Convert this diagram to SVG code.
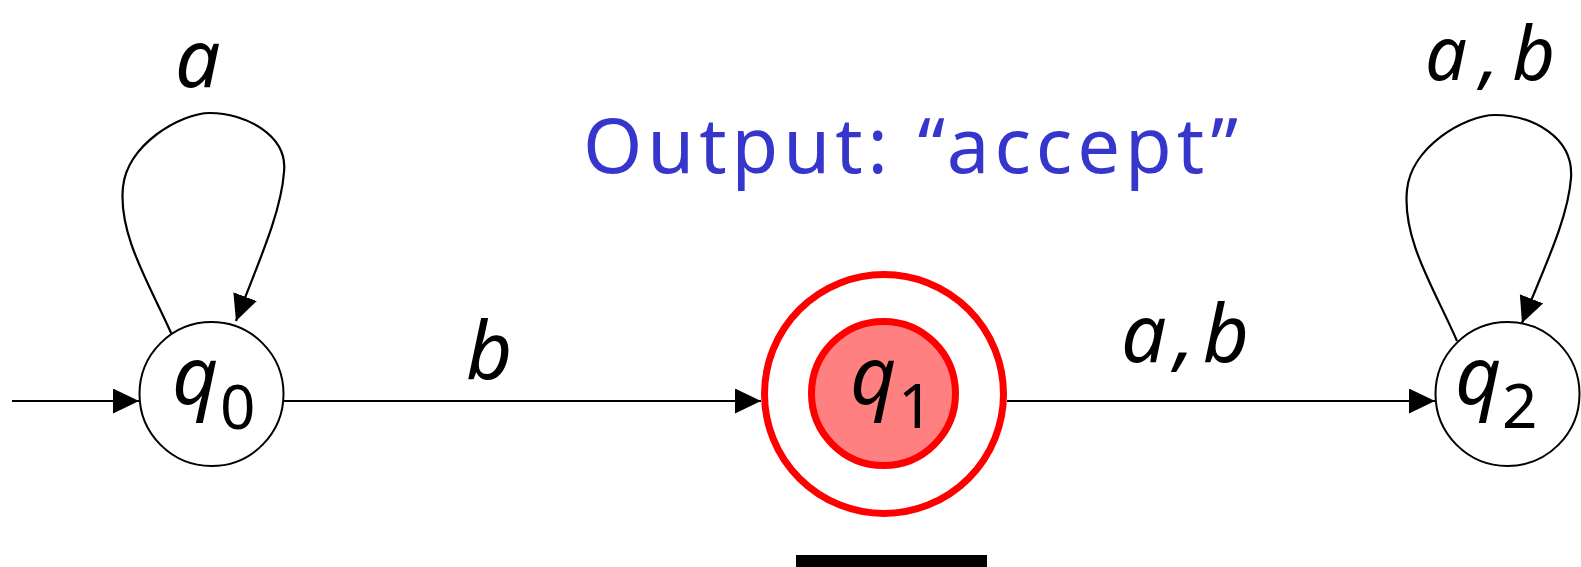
<svg xmlns="http://www.w3.org/2000/svg" width="1581" height="567" viewBox="0 0 1581 567">
<style>
.edge{fill:none;stroke:#000;stroke-width:2.2}
.state{fill:#fff;stroke:#000;stroke-width:2}
.lbl{font-family:"Noto Sans","DejaVu Sans",sans-serif;font-style:italic;font-size:80px;fill:#000}
.sub{font-family:"Noto Sans","DejaVu Sans",sans-serif;font-size:62px;fill:#000}
.out{font-family:"Noto Sans","DejaVu Sans",sans-serif;font-size:76px;fill:#3636CC}
</style>
<defs>
<marker id="arr" markerUnits="userSpaceOnUse" markerWidth="26" markerHeight="26" refX="26" refY="12.5" orient="auto">
<path d="M0,0 L26,12.5 L0,25 z" fill="#000"/>
</marker>
</defs>
<g id="connectors">
<path class="edge" d="M12,401 L139,401" marker-end="url(#arr)"/>
<path class="edge" d="M284,401 L761,401" marker-end="url(#arr)"/>
<path class="edge" d="M1007,401 L1435,401" marker-end="url(#arr)"/>
<path class="edge" d="M172,335 C150,285 118,235 123,187 C127,145 180,113 210,113 C245,113 288,135 284,172 C281,215 255,270 236,321" marker-end="url(#arr)"/>
<path class="edge" d="M1457,341 C1435,290 1402,240 1407,190 C1411,147 1465,115 1495,115 C1532,115 1574,137 1571,178 C1568,220 1542,272 1522,323" marker-end="url(#arr)"/>
<text class="lbl" x="175" y="87">a</text>
<text class="lbl" x="466" y="379">b</text>
<text class="lbl" x="1121" y="362" textLength="128">a,b</text>
<text class="lbl" x="1425" y="80" textLength="130" style="font-size:74px">a,b</text>
</g>
<g id="q0">
<circle class="state" cx="211.5" cy="394" r="72"/>
<text class="lbl" x="172" y="404">q</text>
<text class="sub" x="220" y="429">0</text>
</g>
<g id="q1">
<circle cx="884" cy="394" r="119.5" fill="#fff" stroke="#FF0000" stroke-width="7"/>
<circle cx="883.5" cy="393.5" r="72" fill="#FF8080" stroke="#FF0000" stroke-width="7"/>
<text class="lbl" x="850" y="404">q</text>
<text class="sub" x="898" y="428">1</text>
</g>
<g id="q2">
<circle class="state" cx="1507.5" cy="394" r="72"/>
<text class="lbl" x="1455" y="404">q</text>
<text class="sub" x="1502" y="428">2</text>
</g>
<g id="output">
<text class="out" x="583" y="173" textLength="655">Output: “accept”</text>
</g>
<rect x="796" y="555" width="191" height="12" fill="#000"/>
</svg>
